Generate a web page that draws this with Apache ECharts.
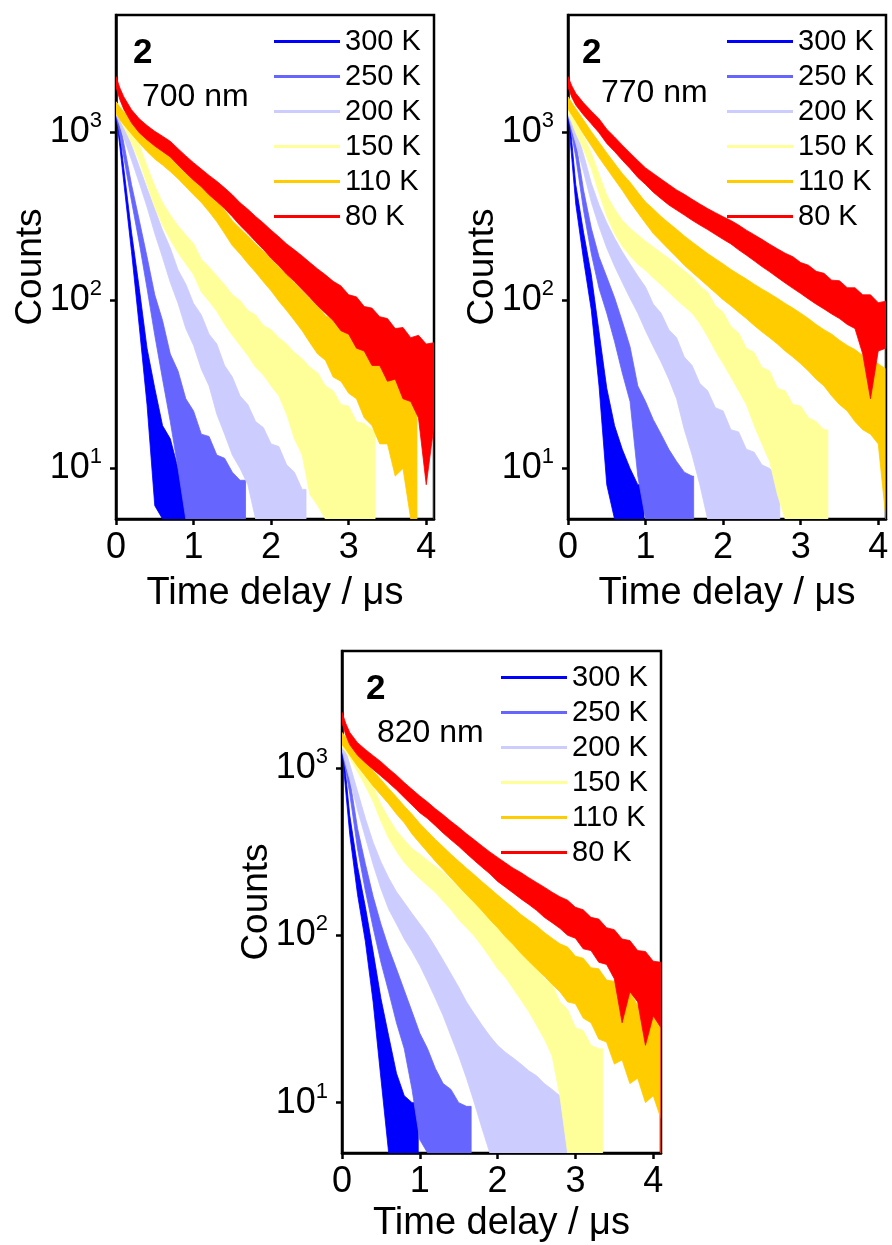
<!DOCTYPE html>
<html><head><meta charset="utf-8">
<script src="https://cdn.jsdelivr.net/npm/echarts@6/dist/echarts.min.js"></script>
<style>html,body{margin:0;padding:0;background:#fff}#c{width:892px;height:1245px}</style>
</head><body><div id="c"></div><script>
// ---------------- data ----------------
const TIME = [0,0.05,0.1,0.2,0.3,0.4,0.5,0.6,0.7,0.8,0.9,1.0,1.1,1.2,1.3,1.4,1.5,1.6,1.7,1.8,1.9,2.0,2.1,2.2,2.3,2.4,2.5,2.6,2.7,2.8,2.9,3.0,3.1,3.2,3.3,3.4,3.5,3.6,3.7,3.8,3.9,4.0,4.1];
const TEMPS = ['300 K','250 K','200 K','150 K','110 K','80 K'];
const COLORS = ['#0000ff','#6666ff','#ccccff','#ffff99','#ffcc00','#ff0000'];
const WAVELENGTHS = ['700 nm','770 nm','820 nm'];
const SAMPLE = '2';
const X_TICKS = [0,1,2,3,4];
const Y_TICKS = [10,100,1000];
const Y_MIN = 5, Y_MAX = 5000, X_MAX = 4.1;

// upper (hi) and lower (lo) edges of each noisy trace, counts; 0 = at/below axis floor
// ---- 700 nm ----
const hi700_300 = [1520,960,615,255,118,52,30,18,15,10,8.5];
const lo700_300 = [1290,820,505,195,70,24,6,0,0,0,0];
const hi700_250 = [1520,1140,865,490,300,182,108,76,48,38,26,22,16,15.5,12,11.5,9.5,8.5];
const lo700_250 = [1290,960,715,390,220,118,62,34,19,10,5,0,0,0,0,0,0,0];
const hi700_200 = [1520,1305,1130,840,625,465,350,262,205,152,125,96,82,63,55,41,35,27,24,19,17.5,14,13.5,10.5,9.5,7.5];
const lo700_200 = [1290,1100,930,685,500,360,250,180,128,96,68,54,39,31,21,16,12,10,8,0,0,0,0,0,0,0];
const hi700_150 = [1520,1415,1290,1055,845,630,480,382,322,278,245,218,176,158,140,124,108,100,87,82,71,67,60,55,49,45,40,37,31,29,24,23.5,19,18.5,17];
const lo700_150 = [1290,1190,1075,865,675,490,360,280,230,192,165,142,112,99,86,72,62,54,47,40,36,31,27,21,15,12,7,6,0,0,0,0,0,0,0];
const hi700_110 = [1520,1415,1330,1185,1055,950,865,800,735,670,605,555,507,445,395,345,298,268,242,217,196,176,158,142,128,114,102,94,81,77,70,66,58,55,48,45,40,38,33,32];
const lo700_110 = [1290,1190,1110,980,865,770,695,640,585,530,475,425,383,337,294,250,212,189,166,147,129,114,99,87,76,66,56,48,44,35,33,28,26,20,18,14,14,9,10,0];
const hi700_80 = [2150,1840,1630,1365,1205,1100,1015,950,885,800,725,660,605,555,512,468,425,381,349,316,289,262,239,217,200,184,168,154,142,130,122,108,105,92,90,80,78,68,69,60,62,55,56];
const lo700_80 = [1860,1565,1375,1140,995,905,830,770,715,640,575,520,475,425,388,352,315,279,251,224,201,178,161,143,130,116,104,93,84,76,66,63,52,50,41,41,33,34,26,25,20,8,18];
const end700 = [0.98,1.67,2.45,3.34,3.88,4.1];
// ---- 770 nm ----
const hi770_300 = [1520,870,490,255,142,65,30,18,13,10,8];
const lo770_300 = [1290,690,375,175,88,31,8,0,0,0,0];
const hi770_250 = [1520,1140,885,455,270,182,138,104,75,53,31,25,19.5,16,13,11,9.5,9];
const lo770_250 = [1290,960,715,345,190,118,84,57,37,25,9,5,0,0,0,0,0,0];
const hi770_200 = [1520,1260,1060,740,500,370,290,235,195,165,140,120,95,84,67,60,46,41,32,29,23,22,17,16.5,13,12.5,10.5,10,9];
const lo770_200 = [1290,1040,865,585,385,275,205,160,128,103,84,66,53,43,34,26,17,12,8,0,0,0,0,0,0,0,0,0,0];
const hi770_150 = [1520,1360,1205,950,755,565,422,350,300,268,246,225,208,192,178,163,150,138,122,112,93,85,70,64,52,49,40,38,30,29,24,23.5,20,19,17];
const lo770_150 = [1290,1145,995,790,610,435,318,250,210,184,164,151,136,124,112,101,92,84,73,61,50,42,35,29,24,18,14,11,7,0,0,0,0,0,0];
const hi770_110 = [1630,1500,1385,1185,1012,875,755,655,570,505,440,385,350,316,289,265,242,223,206,190,177,165,153,143,134,125,117,110,103,96,90,84,78,72,67,63,58,54,51,47,44,42,39];
const lo770_110 = [1375,1270,1165,980,832,708,610,525,452,385,333,288,250,224,201,181,162,147,134,122,111,101,93,85,78,71,65,60,55,50,46,42,38,34,31,27,24,22,19,17,16,14,0];
const hi770_80 = [2150,1890,1710,1500,1340,1205,1045,940,840,755,680,615,570,528,490,455,428,400,375,352,333,315,299,281,262,246,231,216,203,191,182,168,162,149,145,132,131,119,119,108,108,97,99];
const lo770_80 = [1860,1615,1455,1270,1125,995,860,770,683,610,540,490,440,403,370,345,322,300,281,264,247,231,217,200,186,172,159,148,137,127,118,110,102,95,89,83,78,72,68,48,26,50,52];
const end770 = [0.98,1.62,2.73,3.35,4.1,4.1];
// ---- 820 nm ----
const hi820_300 = [1520,890,520,258,148,80,42,25,15,11,10];
const lo820_300 = [1290,710,400,175,92,40,14,5,0,0,0];
const hi820_250 = [1520,1140,860,435,268,171,117,84,63,47,35,26,21,16,13,12,10,9.5];
const lo820_250 = [1290,960,700,328,185,111,69,46,30,21,12,6,0,0,0,0,0,0];
const hi820_200 = [1520,1260,1050,725,500,360,275,220,182,157,135,117,101,85,71,59,49,40,34,29,25,22,20,18.5,17,15.5,14.5,13,12,11,10,9,8];
const lo820_200 = [1290,1040,855,560,385,265,190,143,117,95,80,66,53,42,33,25,19,14,10,7,0,0,0,0,0,0,0,0,0,0,0,0,0];
const hi820_150 = [1575,1467,1360,1152,962,775,605,500,422,372,330,305,280,258,238,215,193,174,157,142,127,112,104,88,84,71,68,55,51,40,36,28,27,22,21];
const lo820_150 = [1330,1240,1145,950,780,630,480,380,318,272,242,218,198,180,160,142,124,111,99,86,74,63,56,48,41,35,29,24,19,11,0,0,0,0,0];
const hi820_110 = [1630,1520,1415,1237,1090,962,852,755,670,592,528,466,417,374,338,305,277,252,230,209,191,174,159,146,133,123,114,104,96,89,85,75,73,64,63,54,53,45,46,38,39,33,34];
const lo820_110 = [1375,1290,1190,1025,895,780,690,610,530,470,403,355,314,277,247,220,196,175,157,140,124,111,98,88,78,70,63,57,51,46,40,39,32,30,24,23,17,18,13,14,10,11,8];
const hi820_80 = [2150,1840,1630,1415,1290,1185,1090,990,905,818,745,680,625,570,525,480,442,404,372,342,315,292,271,252,237,221,207,194,181,170,162,147,142,128,125,111,108,95,93,81,80,70,69];
const lo820_80 = [1860,1565,1375,1190,1075,980,895,815,740,665,600,540,498,452,408,372,340,308,280,255,233,210,194,179,165,153,141,128,119,110,100,96,83,81,69,67,55,30,46,40,22,33,28];
const end820 = [0.98,1.66,3.18,3.35,4.1,4.1];

// ---------------- chart ----------------
const FONT = '"Liberation Sans", Arial, Helvetica, sans-serif';
const PANELS = [
  {wl: WAVELENGTHS[0], hi:[hi700_300,hi700_250,hi700_200,hi700_150,hi700_110,hi700_80], lo:[lo700_300,lo700_250,lo700_200,lo700_150,lo700_110,lo700_80], end: end700,
   grid:{left:116, top:15, width:318, height:504}, legend:{left:274, top:27}, tag:{x:133, y:36}, wlPos:{x:142, y:81}, xGap:56},
  {wl: WAVELENGTHS[1], hi:[hi770_300,hi770_250,hi770_200,hi770_150,hi770_110,hi770_80], lo:[lo770_300,lo770_250,lo770_200,lo770_150,lo770_110,lo770_80], end: end770,
   grid:{left:568, top:15, width:318, height:504}, legend:{left:727, top:27}, tag:{x:582, y:36}, wlPos:{x:601, y:77}, xGap:56},
  {wl: WAVELENGTHS[2], hi:[hi820_300,hi820_250,hi820_200,hi820_150,hi820_110,hi820_80], lo:[lo820_300,lo820_250,lo820_200,lo820_150,lo820_110,lo820_80], end: end820,
   grid:{left:342, top:651, width:319, height:502}, legend:{left:501, top:663}, tag:{x:366, y:672}, wlPos:{x:377, y:717}, xGap:52}
];

const grids = [], xAxes = [], yAxes = [], series = [], legends = [], graphics = [];
PANELS.forEach((p, gi) => {
  grids.push(Object.assign({show:true, borderColor:'#000', borderWidth:2.5, backgroundColor:'transparent',
    containLabel:false, outerBoundsMode:'none'}, p.grid));
  xAxes.push({
    type:'value', gridIndex:gi, min:0, max:X_MAX, interval:1,
    name:'Time delay / μs', nameLocation:'middle', nameGap:p.xGap, nameMoveOverlap:false,
    nameTextStyle:{fontFamily:FONT, fontSize:38, color:'#000'},
    axisLine:{show:true, onZero:false, lineStyle:{color:'#000', width:2.5}},
    axisTick:{show:true, inside:false, length:6, lineStyle:{width:2.5, color:'#000'}, customValues:X_TICKS},
    axisLabel:{show:true, margin:11, showMaxLabel:false,
      formatter: v => (Math.abs(v - Math.round(v)) < 1e-6 ? '{t|' + Math.round(v) + '}' : ''),
      rich:{ t:{fontFamily:FONT, fontSize:36, lineHeight:36, color:'#000'} }},
    splitLine:{show:false}
  });
  yAxes.push({
    type:'log', logBase:10, gridIndex:gi, min:Y_MIN, max:Y_MAX,
    name:'Counts', nameLocation:'middle', nameGap:67, nameRotate:90, nameMoveOverlap:false,
    nameTextStyle:{fontFamily:FONT, fontSize:37, color:'#000'},
    axisLine:{show:true, onZero:false, lineStyle:{color:'#000', width:2.5}},
    axisTick:{show:true, inside:false, length:6, lineStyle:{width:2.5, color:'#000'}, customValues:Y_TICKS},
    axisLabel:{show:true, margin:14, showMinLabel:false, showMaxLabel:false,
      formatter: v => {
        const e = Math.log10(v);
        return Math.abs(e - Math.round(e)) < 1e-6 ? '{b|10}{s|' + Math.round(e) + '}' : '';
      },
      rich:{ b:{fontFamily:FONT, fontSize:36, lineHeight:44, color:'#000'},
             s:{fontFamily:FONT, fontSize:22, lineHeight:22, verticalAlign:'top', color:'#000'} }},
    splitLine:{show:false}, minorTick:{show:false}
  });
  TEMPS.forEach((name, si) => {
    const hi = p.hi[si], lo = p.lo[si], end = p.end[si], color = COLORS[si];
    series.push({
      type:'custom', name, xAxisIndex:gi, yAxisIndex:gi, coordinateSystem:'cartesian2d',
      itemStyle:{color}, clip:true, silent:true,
      data:[[0, hi[0]]], encode:{x:0, y:1},
      renderItem:(params, api) => {
        const n = hi.length, pts = [];
        for (let i = 0; i < n; i++) pts.push(api.coord([TIME[i], hi[i]]));
        pts.push(api.coord([end, hi[n-1]]));
        pts.push(api.coord([end, Y_MIN]));
        for (let i = n-1; i >= 0; i--) pts.push(api.coord([TIME[i], Math.max(lo[i], Y_MIN)]));
        return {type:'polygon', shape:{points:pts}, style:{fill:color, stroke:color, lineWidth:0.8}};
      }
    });
  });
  legends.push({
    orient:'vertical', left:p.legend.left, top:p.legend.top, selectedMode:false,
    itemWidth:66, itemHeight:3, itemGap:6, padding:0,
    textStyle:{fontFamily:FONT, fontSize:29, lineHeight:29, color:'#000'},
    data: TEMPS.map((t, i) => ({name:t, icon:'rect', itemStyle:{color:COLORS[i]}}))
  });
  graphics.push({type:'text', left:p.tag.x, top:p.tag.y, z:10,
    style:{text:SAMPLE, fontFamily:FONT, fontSize:35, fontWeight:'bold', fill:'#000'}});
  graphics.push({type:'text', left:p.wlPos.x, top:p.wlPos.y, z:10,
    style:{text:p.wl, fontFamily:FONT, fontSize:32, fill:'#000'}});
});

const chart = echarts.init(document.getElementById('c'), null, {renderer:'canvas'});
chart.setOption({
  animation:false, backgroundColor:'#fff',
  grid:grids, xAxis:xAxes, yAxis:yAxes, series, legend:legends, graphic:graphics
});
</script></body></html>
